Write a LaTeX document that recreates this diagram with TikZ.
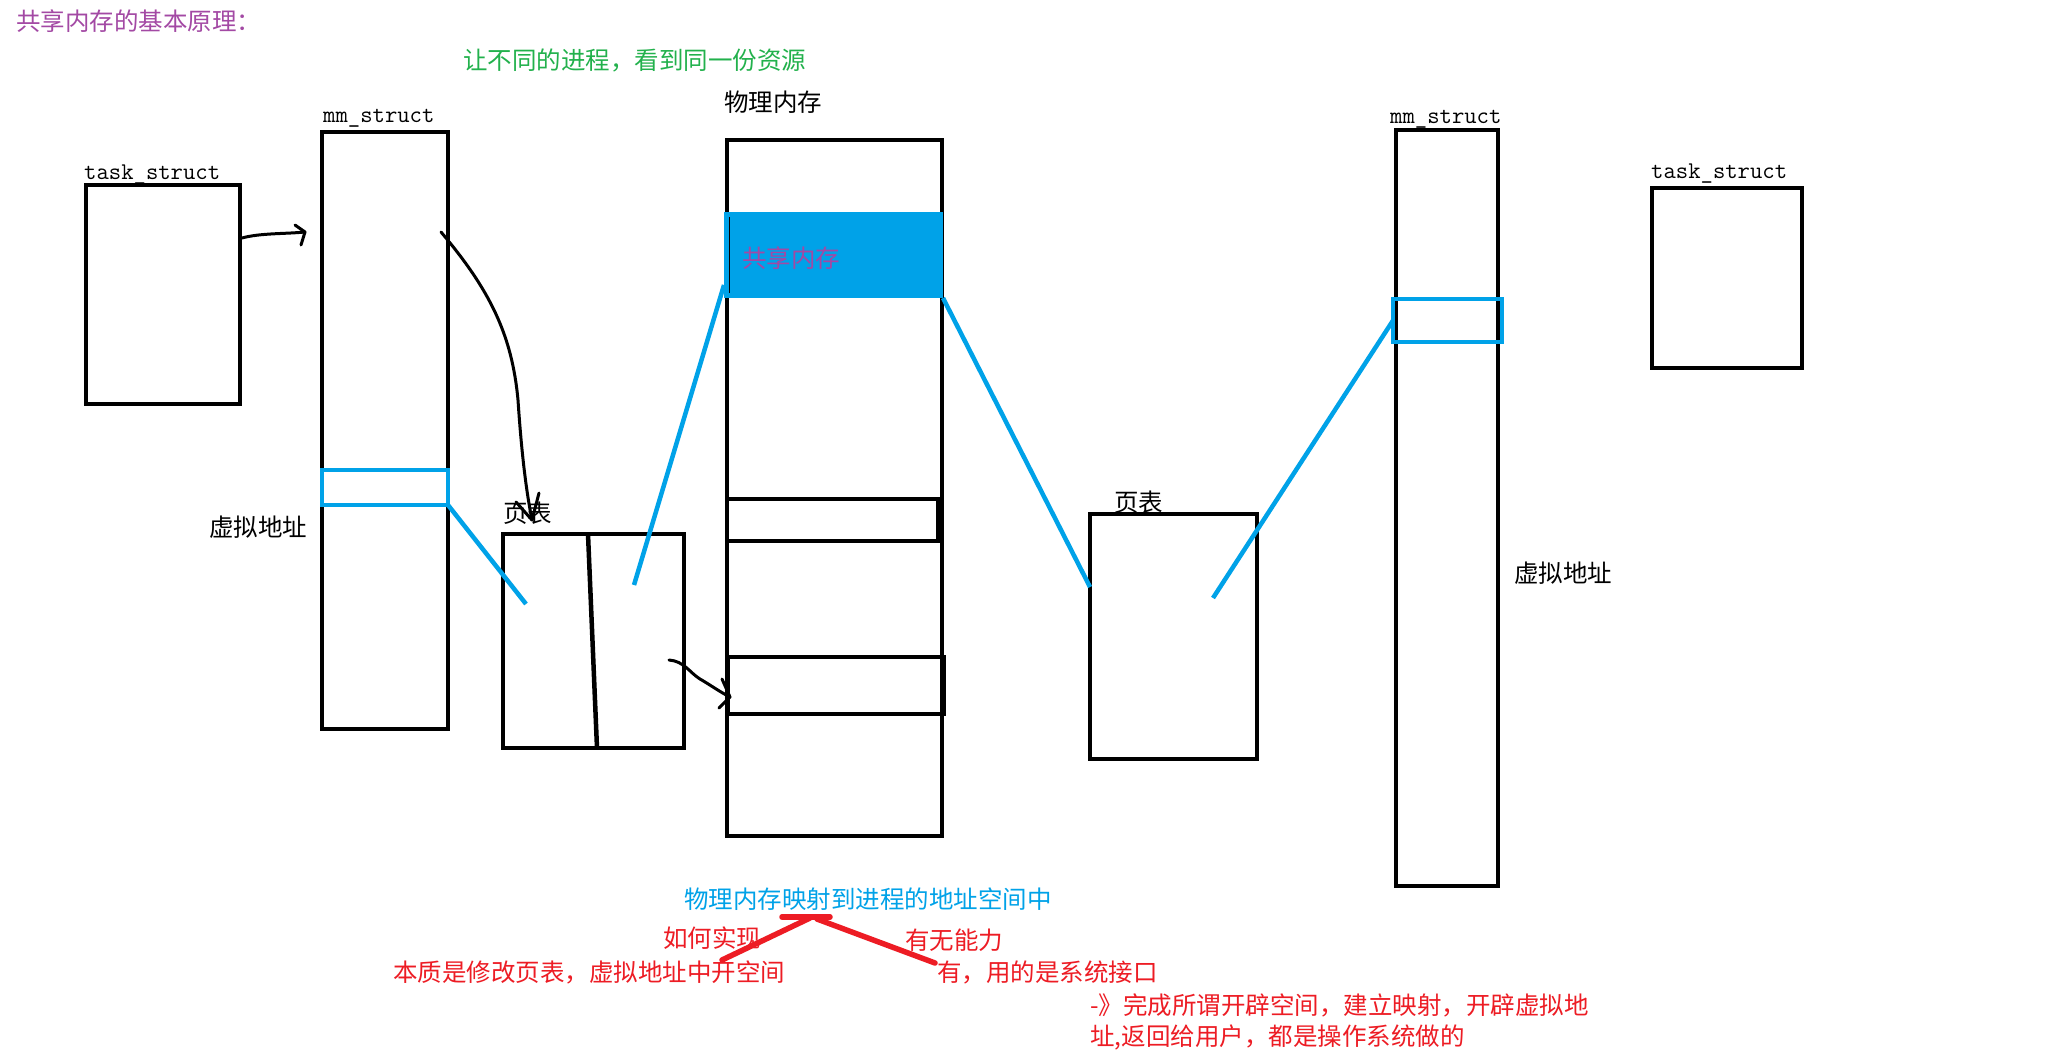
\documentclass[tikz,border=0pt]{standalone}
\usepackage{fontspec}
\newfontfamily\cjk{Noto Sans CJK SC}
\usetikzlibrary{calc}
\definecolor{pblue}{RGB}{0,162,232}
\definecolor{pred}{RGB}{237,28,36}
\definecolor{pgreen}{RGB}{34,177,76}
\definecolor{ppurple}{RGB}{163,73,164}
\begin{document}
\begin{tikzpicture}[x=1pt,y=-1pt,
  blk/.style={draw=black,line width=4.5pt,inner sep=0,outer sep=0,anchor=north west},
  bbox/.style={draw=pblue,line width=4.5pt,inner sep=0,outer sep=0,anchor=north west},
  bl/.style={draw=pblue,line width=4.5pt},
  hand/.style={draw=black,line width=3pt,line cap=round,line join=round},
  rl/.style={draw=pred,line width=5.5pt,line cap=round},
  cj/.style={font=\cjk\fontsize{24.5}{28}\selectfont,inner sep=0,anchor=west},
  mono/.style={font=\ttfamily\fontsize{24}{28}\selectfont,inner sep=0,anchor=base west},
]
\path[use as bounding box,fill=white] (0,0) rectangle (2046,1055);

% titles
\node[cj,text=ppurple] (title) at (16,21) {共享内存的基本原理：};
\node[cj,text=pgreen] (goal) at (463,60) {让不同的进程，看到同一份资源};

% left process
\node[mono] (ts1l) at (84,179) {task\_struct};
\node[blk,minimum width=154,minimum height=219] (ts1) at (86,185) {};
\node[mono] (mm1l) at (323,122) {mm\_struct};
\node[blk,minimum width=126,minimum height=597] (mm1) at (322,132) {};
\node[bbox,minimum width=126,minimum height=35] (vb1) at (322,470) {};
\node[cj] (va1) at (209,527) {虚拟地址};

% left page table
\node[cj] (pt1l) at (503,513) {页表};
\node[blk,minimum width=181,minimum height=214] (pt1) at (503,534) {};
\draw[black,line width=4.5pt] (588,534) -- (597,748);

% physical memory
\node[cj,anchor=west] (pml) at (724,102) {物理内存};
\node[blk,minimum width=215,minimum height=696] (pm) at (727,140) {};
\node[fill=pblue,inner sep=0,outer sep=0,anchor=north west,minimum width=219,minimum height=86] (sm) at (724,212) {};
\draw[black,line width=1.2pt] (729.5,217) -- (729.5,293);
\node[cj,text=ppurple] (sml) at (742,258) {共享内存};
\node[blk,minimum width=211,minimum height=42] (b1) at (727,499) {};
\node[blk,minimum width=216,minimum height=57] (b2) at (728,657) {};

% right side
\node[cj] (pt2l) at (1114,502) {页表};
\node[blk,minimum width=167,minimum height=245] (pt2) at (1090,514) {};
\node[mono] (mm2l) at (1390,123) {mm\_struct};
\node[blk,minimum width=102,minimum height=756] (mm2) at (1396,130) {};
\node[bbox,minimum width=109,minimum height=43] (vb2) at (1393,299) {};
\node[cj] (va2) at (1514,573) {虚拟地址};
\node[mono] (ts2l) at (1651,178) {task\_struct};
\node[blk,minimum width=150,minimum height=180] (ts2) at (1652,188) {};

% black hand arrows (hand-drawn heads)
\coordinate (a1s) at (242,238);
\coordinate (a1e) at (305,232);
\draw[hand] (a1s) .. controls (260,233) and (285,234) .. (a1e);
\draw[hand] ($(a1e)+(-10,-7)$) -- (a1e) -- ($(a1e)+(-4,13)$);
\coordinate (a2s) at (441,232);
\coordinate (a2e) at (532,520);
\draw[hand] (a2s) .. controls (490,290) and (512,335) .. (518,400) .. controls (522,460) and (527,495) .. (a2e);
\draw[hand] ($(a2e)+(-16,-18)$) -- (a2e) -- ($(a2e)+(7,-27)$);
\coordinate (a3s) at (669,660);
\coordinate (a3e) at (730,697);
\draw[hand] (a3s) .. controls (684,661) and (690,673) .. (700,679) .. controls (712,686) and (720,692) .. (a3e);
\draw[hand] ($(a3e)+(-8,-18)$) -- (a3e) -- ($(a3e)+(-11,11)$);

% blue mapping lines
\coordinate (c1) at (526,604);
\coordinate (c2) at (634,585);
\coordinate (c3) at (1090,587);
\coordinate (c4) at (1213,598);
\draw[bl] (vb1.south east) -- (c1);
\draw[bl] (c2) -- ($(sm.south west)+(0,-13)$);
\draw[bl] (sm.south east) -- (c3);
\draw[bl] (c4) -- (vb2.west);

% bottom notes
\node[cj,text=pblue] (map) at (684,899) {物理内存映射到进程的地址空间中};
\node[cj,text=pred] (how) at (663,938) {如何实现};
\node[cj,text=pred] (can) at (905,940) {有无能力};
\node[cj,text=pred] (ess) at (393,972) {本质是修改页表，虚拟地址中开空间};
\node[cj,text=pred] (yes) at (937,972) {有，用的是系统接口};
\node[cj,text=pred] (os1) at (1090,1005) {-》完成所谓开辟空间，建立映射，开辟虚拟地};
\node[cj,text=pred] (os2) at (1090,1037) {址,返回给用户，都是操作系统做的};
\coordinate (r1) at (722,960);
\coordinate (r2) at (810,918);
\coordinate (r3) at (817,919);
\coordinate (r4) at (935,963);
\draw[rl] (782,917) -- (830,917);
\draw[rl] (r1) -- (r2);
\draw[rl] (r3) -- (r4);
\end{tikzpicture}
\end{document}
